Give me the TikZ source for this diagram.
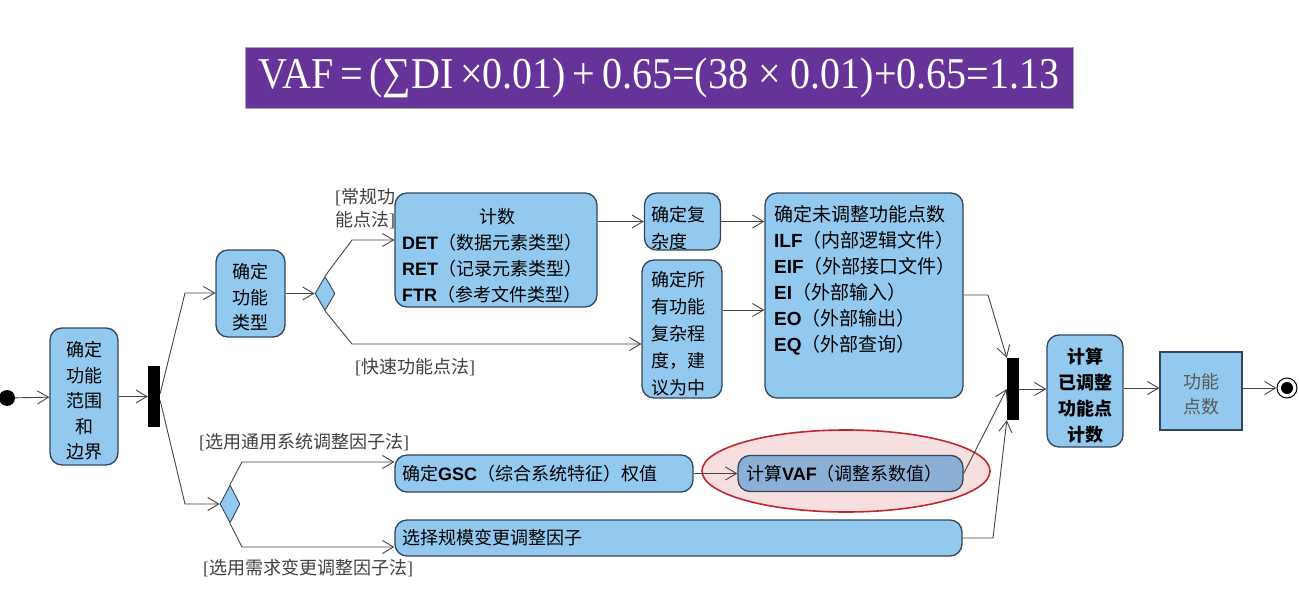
\documentclass[tikz,border=0pt]{standalone}
\usepackage{fontspec}
\usepackage{graphicx}
\setmainfont{Liberation Sans}
\newfontfamily\cjk{Noto Sans CJK SC}
\newfontfamily\tnr{Liberation Serif}
\usetikzlibrary{arrows.meta,shapes.geometric,calc}
\definecolor{boxfill}{HTML}{93C9EE}
\definecolor{vaffill}{HTML}{8CAFD5}
\definecolor{boxline}{HTML}{34465C}
\definecolor{linec}{HTML}{454545}
\definecolor{purp}{HTML}{663399}
\definecolor{ellred}{HTML}{C0282D}
\definecolor{ellfill}{HTML}{F7DEDF}
\definecolor{lblc}{HTML}{404040}
\newcommand{\lb}[1]{{\rmfamily\bfseries #1}}
\tikzset{
  act/.style={draw=boxline, fill=boxfill, line width=1.3pt, rounded corners=12pt, inner sep=0pt},
  txt/.style={inner sep=0pt, font=\fontsize{18}{26}\selectfont\cjk, text=black},
  lbl/.style={inner sep=0pt, font=\fontsize{18}{23}\selectfont\cjk, text=lblc, anchor=west, align=left},
  bar/.style={fill=black, inner sep=0pt, minimum width=12pt},
  dec/.style={diamond, draw=boxline, fill=boxfill, line width=0.9pt, inner sep=0pt, minimum width=20pt},
  arr/.style={draw=linec, line width=0.9pt, -{Straight Barb[length=11pt,width=13pt,line width=0.9pt]}},
}
\begin{document}
\begin{tikzpicture}[x=1pt,y=-1pt]
\useasboundingbox (0,0) rectangle (1299,607);
% title
\node[fill=purp, draw=gray!70, line width=0.8pt, minimum width=828pt, minimum height=61pt, inner sep=0pt,
      text=white, font=\tnr\fontsize{44}{44}\selectfont] (title) at (659,77.5)
  {\scalebox{0.91}[1]{VAF\,=\,(∑DI\,×0.01)\,+\,0.65=(38 × 0.01)+0.65=1.13}};
% start / end
\node[circle, fill=black, minimum size=16pt, inner sep=0pt] (start) at (7,398) {};
\node[circle, draw=black, fill=white, line width=1pt, minimum size=20pt, inner sep=0pt] (end) at (1287,388) {};
\node[circle, fill=black, minimum size=12pt, inner sep=0pt] (endin) at (1287,388) {};
% boxes
\node[act, minimum width=68pt, minimum height=137pt] (b1) at (84,396.5) {};
\node[txt, align=center, font=\fontsize{18}{25.5}\selectfont\cjk] (t1) at (84,401) {确定\\功能\\范围\\和\\边界};
\node[bar, minimum height=61pt] (bar1) at (154,396.5) {};
\node[act, minimum width=69pt, minimum height=87pt] (b2) at (250.5,293.5) {};
\node[txt, align=center, font=\fontsize{18}{25.5}\selectfont\cjk] (t2) at (250.5,297.5) {确定\\功能\\类型};
\node[dec, minimum height=34pt] (d1) at (325,293.5) {};
\node[act, minimum width=202pt, minimum height=114pt] (b3) at (496,250) {};
\node[txt] (t3a) at (497,217) {计数};
\node[txt, anchor=west, align=left] (t3) at (402,269)
  {\lb{DET}（数据元素类型）\\\lb{RET}（记录元素类型）\\\lb{FTR}（参考文件类型）};
\node[act, minimum width=76pt, minimum height=57pt] (b4) at (682.5,221.5) {};
\node[txt, anchor=west, align=left, font=\fontsize{18}{27}\selectfont\cjk] (t4) at (651,228.5) {确定复\\杂度};
\node[act, minimum width=80pt, minimum height=138pt] (b5) at (682,329) {};
\node[txt, anchor=west, align=left, font=\fontsize{18}{27}\selectfont\cjk] (t5) at (651,334) {确定所\\有功能\\复杂程\\度，建\\议为中};
\node[act, minimum width=198pt, minimum height=205pt] (b6) at (864,295.5) {};
\node[txt, anchor=west, align=left, font=\fontsize{19}{26}\selectfont\cjk] (t6) at (774,280)
  {确定未调整功能点数\\\lb{ILF}（内部逻辑文件）\\\lb{EIF}（外部接口文件）\\\lb{EI}（外部输入）\\\lb{EO}（外部输出）\\\lb{EQ}（外部查询）};
\node[dec, minimum height=38pt] (d2) at (230,504) {};
% red ellipse
\node[ellipse, draw=ellred, fill=ellfill, line width=1.6pt, minimum width=288pt, minimum height=82pt, inner sep=0pt] (ell) at (846,471) {};
\node[act, minimum width=298pt, minimum height=37pt] (b7) at (544,473.5) {};
\node[txt, anchor=west] (t7) at (402,473.5) {确定\lb{GSC}（综合系统特征）权值};
\node[act, fill=vaffill, minimum width=225pt, minimum height=36pt] (b8) at (850.5,473.5) {};
\node[txt, anchor=west] (t8) at (746,473.5) {计算\lb{VAF}（调整系数值）};
\node[act, minimum width=567pt, minimum height=36pt] (b9) at (678.5,538) {};
\node[txt, anchor=west] (t9) at (402,538) {选择规模变更调整因子};
\node[bar, minimum height=62pt] (bar2) at (1013,389) {};
\node[act, minimum width=76pt, minimum height=112pt] (b10) at (1085,391) {};
\node[txt, align=center, font=\fontsize{18}{26}\selectfont\cjk\bfseries] (t10) at (1085,396) {计算\\已调整\\功能点\\计数};
\node[draw=boxline, fill=boxfill, line width=1.3pt, minimum width=82pt, minimum height=78pt, inner sep=0pt] (b11) at (1201,391) {};
\node[txt, align=center, text=black!65, font=\fontsize{18}{25}\selectfont\cjk] (t11) at (1201,394.5) {功能\\点数};
% labels
\node[lbl] (l1) at (335,208.5) {{\tnr[}常规功\\能点法{\tnr]}};
\node[lbl] (l2) at (355,367) {{\tnr[}快速功能点法{\tnr]}};
\node[lbl] (l3) at (199,442) {{\tnr[}选用通用系统调整因子法{\tnr]}};
\node[lbl] (l4) at (203,568) {{\tnr[}选用需求变更调整因子法{\tnr]}};
% connectors
\draw[arr] (start) -- (b1);
\draw[arr] (b1) -- (bar1);
\draw[arr] ($(bar1.east)+(0,-3)$) -- (185,293) -- (b2.west |- 0,293);
\draw[arr] ($(bar1.east)+(0,4)$) -- (185,504) -- (d2.west);
\draw[arr] (b2.east |- d1.west) -- (d1.west);
\draw[arr] (d1.north) -- (352,240) -- (b3.west |- 0,240);
\draw[arr] (d1.south) -- (352,344) -- (b5.west |- 0,344);
\draw[arr] (b3.east |- b4.west) -- (b4.west);
\draw[arr] (b4.east) -- (b6.west |- b4.east);
\draw[arr] (b5.east |- 0,310) -- (b6.west |- 0,310);
\draw[arr] (b6.east |- 0,295) -- (988,295) -- (bar2.north west);
\draw[arr] (d2.north) -- (242,462) -- (b7.west |- 0,462);
\draw[arr] (d2.south) -- (242,547) -- (b9.west |- 0,547);
\draw[arr] (b7.east) -- (b8.west);
\draw[arr] (b8.east) -- (bar2.west);
\draw[arr] (b9.east) -- (993,538) -- (bar2.south west);
\draw[arr] (bar2.east) -- (b10.west |- bar2.east);
\draw[arr] (b10.east |- 0,388) -- (b11.west |- 0,388);
\draw[arr] (b11.east |- end) -- (end);
\end{tikzpicture}
\end{document}
